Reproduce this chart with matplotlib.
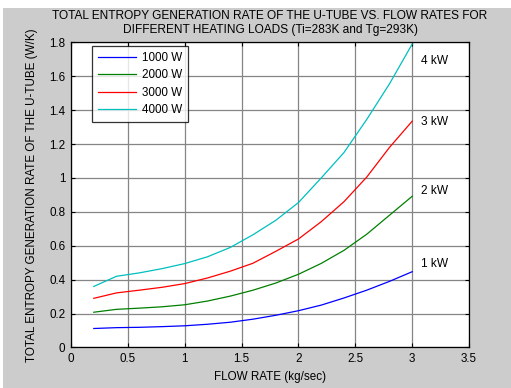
import matplotlib
matplotlib.use('Agg')
import matplotlib.pyplot as plt
from matplotlib.patches import Rectangle

# ------------------------------
# Data
# ------------------------------
flow = [0.2, 0.4, 0.6, 0.8, 1.0, 1.2, 1.4, 1.6, 1.8, 2.0, 2.2, 2.4, 2.6, 2.8, 3.0]

s_1000 = [0.112, 0.117, 0.119, 0.123, 0.128, 0.137, 0.149, 0.167, 0.190, 0.217,
          0.250, 0.292, 0.338, 0.390, 0.447]
s_2000 = [0.208, 0.225, 0.232, 0.240, 0.252, 0.274, 0.303, 0.338, 0.380, 0.432,
          0.496, 0.573, 0.668, 0.780, 0.892]
s_3000 = [0.290, 0.322, 0.338, 0.355, 0.377, 0.410, 0.450, 0.497, 0.567, 0.640,
          0.742, 0.860, 1.005, 1.180, 1.335]
s_4000 = [0.360, 0.420, 0.440, 0.465, 0.495, 0.535, 0.590, 0.665, 0.750, 0.855,
          1.000, 1.150, 1.345, 1.555, 1.790]

series_labels = ['1000 W', '2000 W', '3000 W', '4000 W']
series_colors = ['#0000ff', '#008000', '#ff0000', '#00bfbf']
end_labels = ['1 kW', '2 kW', '3 kW', '4 kW']
end_label_y = [0.49, 0.925, 1.33, 1.69]

# ------------------------------
# Plotting
# ------------------------------
plt.rcParams['font.family'] = ['Liberation Sans', 'DejaVu Sans']
plt.rcParams['font.size'] = 8

fig = plt.figure(figsize=(5.11, 3.88), dpi=100, facecolor='white')
# grey MATLAB-style figure background (thin white strip on top/left)
fig.patches.append(Rectangle((3 / 511, 0), 1, 1 - 8 / 388, transform=fig.transFigure,
                             facecolor='#cccccc', edgecolor='none', zorder=-10))

ax = fig.add_axes([0.139, 0.1044, 0.779, 0.7866])

for ys, lab, col in zip([s_1000, s_2000, s_3000, s_4000], series_labels, series_colors):
    ax.plot(flow, ys, color=col, linewidth=0.9, label=lab)

for txt, yy in zip(end_labels, end_label_y):
    ax.text(3.08, yy, txt, ha='left', va='center', fontsize=8.6)

ax.set_xlim(0, 3.5)
ax.set_ylim(0, 1.8)
ax.set_xticks([0, 0.5, 1, 1.5, 2, 2.5, 3, 3.5])
ax.set_xticklabels(['0', '0.5', '1', '1.5', '2', '2.5', '3', '3.5'])
ax.set_yticks([0, 0.2, 0.4, 0.6, 0.8, 1.0, 1.2, 1.4, 1.6, 1.8])
ax.set_yticklabels(['0', '0.2', '0.4', '0.6', '0.8', '1', '1.2', '1.4', '1.6', '1.8'])
ax.tick_params(direction='in', top=True, right=True, length=3, width=0.8,
               labelsize=8.4, pad=4)
ax.grid(True, color='#858585', linewidth=0.9)
ax.set_axisbelow(True)
for sp in ax.spines.values():
    sp.set_linewidth(0.9)

ax.set_title('TOTAL ENTROPY GENERATION RATE OF THE U-TUBE VS. FLOW RATES FOR\n'
             'DIFFERENT HEATING LOADS (Ti=283K and Tg=293K)',
             fontsize=8.6, linespacing=1.2, pad=7)
ax.set_xlabel('FLOW RATE (kg/sec)', fontsize=8.4, labelpad=4)
ax.set_ylabel('TOTAL ENTROPY GENERATION RATE OF THE U-TUBE (W/K)', fontsize=8.4, labelpad=8)

leg = ax.legend(loc='upper left', bbox_to_anchor=(0.052, 0.987), fontsize=8.4,
                frameon=True, fancybox=False, shadow=False, handlelength=3.3,
                handletextpad=0.5, borderpad=0.5, labelspacing=0.45, borderaxespad=0)
leg.get_frame().set_edgecolor('black')
leg.get_frame().set_linewidth(0.9)

fig.savefig('out.png', dpi=100, facecolor=fig.get_facecolor())
